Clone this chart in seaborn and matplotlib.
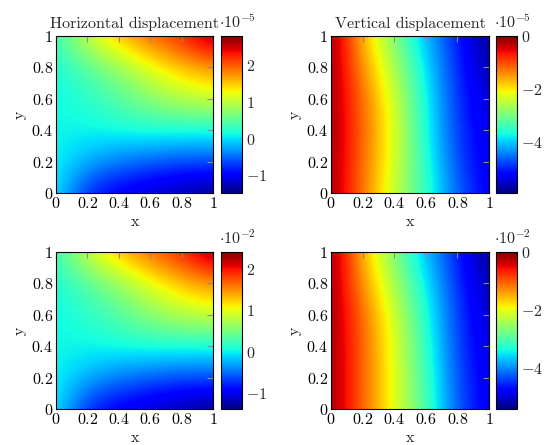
import numpy as np
import matplotlib
matplotlib.use("Agg")
import matplotlib.pyplot as plt
import seaborn as sns

# ---------------- data ----------------
grid_x = [0.0, 0.2, 0.4, 0.6, 0.8, 1.0]
grid_y = [1.0, 0.8, 0.6, 0.4, 0.2, 0.0]   # rows, top to bottom

# Horizontal displacement, x 1e-5
horiz_small = [
    [0.32, 1.09, 1.60, 1.99, 2.29, 2.78],
    [0.15, 0.45, 0.79, 1.17, 1.52, 1.73],
    [0.10, 0.23, 0.45, 0.75, 0.96, 1.09],
    [0.10, 0.10, 0.15, 0.19, 0.17, 0.15],
    [0.10, -0.20, -0.41, -0.54, -0.62, -0.62],
    [0.06, -0.84, -1.05, -1.22, -1.35, -1.48],
]
# Vertical displacement, x 1e-5
vert_small = [
    [0.00, -1.70, -2.95, -4.10, -5.00, -5.90],
    [-0.05, -1.45, -2.60, -3.85, -4.95, -5.70],
    [-0.10, -1.20, -2.35, -3.70, -4.90, -5.50],
    [-0.10, -1.15, -2.25, -3.65, -4.85, -5.40],
    [-0.10, -1.20, -2.30, -3.55, -4.75, -5.35],
    [-0.10, -1.25, -2.45, -3.45, -4.60, -5.30],
]
# Horizontal displacement, x 1e-2
horiz_large = [
    [0.21, 0.89, 1.34, 1.68, 1.95, 2.40],
    [0.06, 0.32, 0.62, 0.96, 1.27, 1.46],
    [0.02, 0.13, 0.32, 0.59, 0.78, 0.89],
    [0.02, 0.02, 0.06, 0.09, 0.08, 0.06],
    [0.02, -0.25, -0.44, -0.55, -0.62, -0.62],
    [-0.02, -0.81, -1.00, -1.15, -1.27, -1.38],
]
# Vertical displacement, x 1e-2
vert_large = [
    [0.00, -1.55, -2.70, -3.75, -4.60, -5.43],
    [-0.05, -1.35, -2.40, -3.50, -4.50, -5.25],
    [-0.08, -1.10, -2.15, -3.30, -4.45, -5.10],
    [-0.08, -1.05, -2.05, -3.20, -4.40, -5.00],
    [-0.08, -1.05, -2.05, -3.10, -4.35, -4.95],
    [-0.08, -1.05, -2.05, -3.00, -4.30, -4.90],
]

color_ranges = [(-1.48, 2.80), (-5.90, 0.0), (-1.38, 2.40), (-5.43, 0.0)]
cbar_ticks = [[-1, 0, 1, 2], [-4, -2, 0], [-1, 0, 1, 2], [-4, -2, 0]]
cbar_exponents = [-5, -5, -2, -2]
titles = ["Horizontal displacement", "Vertical displacement", "", ""]
axis_ticks = [0, 0.2, 0.4, 0.6, 0.8, 1]
axis_tick_labels = ["0", "0.2", "0.4", "0.6", "0.8", "1"]

# ---------------- style ----------------
sns.set_theme(style="white")
plt.rcParams["font.family"] = ["serif"]
plt.rcParams["font.serif"] = ["cmr10", "DejaVu Serif"]
plt.rcParams["mathtext.fontset"] = "cm"
plt.rcParams["axes.formatter.use_mathtext"] = True

FS = 11.5
TICKC = "#8a8a8a"
cmap = plt.get_cmap("jet")

fig = plt.figure(figsize=(5.45, 4.45), dpi=100)
W, H = 545.0, 445.0

def rect(x0, y0, x1, y1):
    return [x0 / W, 1 - y1 / H, (x1 - x0) / W, (y1 - y0) / H]

panels = [
    (horiz_small, (56, 36, 213, 193), (221, 36, 242, 193)),
    (vert_small, (331, 36, 489, 193), (496, 36, 517, 193)),
    (horiz_large, (56, 252, 213, 409), (221, 252, 242, 409)),
    (vert_large, (331, 252, 489, 409), (496, 252, 517, 409)),
]

step = grid_x[1] - grid_x[0]
ext = [grid_x[0] - step / 2, grid_x[-1] + step / 2,
       grid_y[-1] - step / 2, grid_y[0] + step / 2]

for i, (vals, arect, crect) in enumerate(panels):
    ax = fig.add_axes(rect(*arect))
    cax = fig.add_axes(rect(*crect))
    vmin, vmax = color_ranges[i]
    im = ax.imshow(np.array(vals), cmap=cmap, vmin=vmin, vmax=vmax,
                   extent=ext, origin="upper", interpolation="bicubic",
                   aspect="auto")
    ax.set_xlim(0, 1)
    ax.set_ylim(0, 1)
    ax.set_xticks(axis_ticks)
    ax.set_yticks(axis_ticks)
    ax.set_xticklabels(["$%s$" % t for t in axis_tick_labels], fontsize=FS)
    ax.set_yticklabels(["$%s$" % t for t in axis_tick_labels], fontsize=FS)
    ax.tick_params(direction="in", top=True, right=True, color=TICKC,
                   length=4, width=0.8, pad=2, labelcolor="black")
    for s in ax.spines.values():
        s.set_color("black")
        s.set_linewidth(0.8)
        s.set_visible(True)
    ax.set_xlabel("x", fontsize=FS, labelpad=3)
    ax.set_ylabel("y", fontsize=FS, labelpad=3)
    if titles[i]:
        ax.set_title(titles[i], fontsize=FS, pad=6)

    cb = fig.colorbar(im, cax=cax)
    cb.set_ticks(cbar_ticks[i])
    cb.set_ticklabels(["$%d$" % t for t in cbar_ticks[i]])
    cax.tick_params(direction="in", left=True, right=True, color=TICKC,
                    length=4, width=0.8, labelsize=FS, pad=3)
    cb.outline.set_edgecolor("black")
    cb.outline.set_linewidth(0.8)
    cax.text(-0.1, 1.035, r"$\cdot 10^{%d}$" % cbar_exponents[i],
             transform=cax.transAxes, ha="left", va="bottom", fontsize=FS)

fig.savefig("out.png", dpi=100)
